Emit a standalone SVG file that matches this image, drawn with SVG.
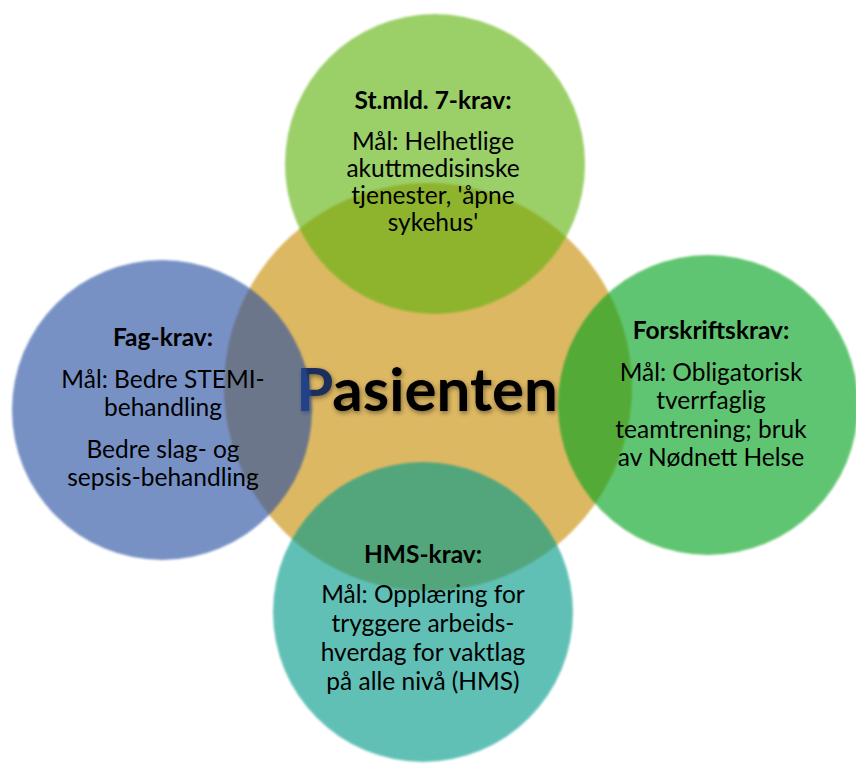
<svg xmlns="http://www.w3.org/2000/svg" width="856" height="764" viewBox="0 0 856 764">
  <style>
    .t { font-family: Lato, "Open Sans", "Liberation Sans", sans-serif; font-size: 24.5px; fill: #000; text-anchor: middle; }
    .h { font-weight: bold; }
    .big { font-family: Lato, "Open Sans", "Liberation Sans", sans-serif; font-size: 60px; font-weight: bold; fill: #000; text-anchor: middle; }
    .sat { opacity: 0.62; filter: url(#soft); }
  </style>
  <defs>
    <filter id="soft" x="-5%" y="-5%" width="110%" height="110%">
      <feGaussianBlur stdDeviation="1.2"/>
    </filter>
    <filter id="shadow" x="-10%" y="-20%" width="120%" height="150%">
      <feGaussianBlur in="SourceAlpha" stdDeviation="2.5"/>
      <feOffset dx="1" dy="2" result="b"/>
      <feComponentTransfer><feFuncA type="linear" slope="0.45"/></feComponentTransfer>
      <feMerge><feMergeNode/><feMergeNode in="SourceGraphic"/></feMerge>
    </filter>
  </defs>

  <g id="center">
    <circle cx="428" cy="387" r="204" fill="#DDB864" filter="url(#soft)"/>
    <text class="big" x="427" y="411" filter="url(#shadow)"><tspan fill="#1F2F5C">P</tspan>asienten</text>
  </g>

  <g id="node-top">
    <circle class="sat" cx="435" cy="164" r="150" fill="#5EB20C"/>
    <text class="t h" x="433" y="109">St.mld. 7-krav:</text>
    <text class="t" x="433" y="150">Mål: Helhetlige</text>
    <text class="t" x="433" y="177">akuttmedisinske</text>
    <text class="t" x="433" y="204">tjenester, 'åpne</text>
    <text class="t" x="433" y="231">sykehus'</text>
  </g>

  <g id="node-left">
    <circle class="sat" cx="162" cy="410" r="150" fill="#264FA3"/>
    <text class="t h" x="163" y="346">Fag-krav:</text>
    <text class="t" x="163" y="388">Mål: Bedre STEMI-</text>
    <text class="t" x="163" y="416">behandling</text>
    <text class="t" x="163" y="458">Bedre slag- og</text>
    <text class="t" x="163" y="486">sepsis-behandling</text>
  </g>

  <g id="node-right">
    <circle class="sat" cx="708" cy="405" r="150" fill="#02A31A"/>
    <text class="t h" x="711" y="339">Forskriftskrav:</text>
    <text class="t" x="711" y="381">Mål: Obligatorisk</text>
    <text class="t" x="711" y="409">tverrfaglig</text>
    <text class="t" x="711" y="438">teamtrening; bruk</text>
    <text class="t" x="711" y="466">av Nødnett Helse</text>
  </g>

  <g id="node-bottom">
    <circle class="sat" cx="423" cy="612" r="150" fill="#069B8A"/>
    <text class="t h" x="423" y="563">HMS-krav:</text>
    <text class="t" x="423" y="603">Mål: Opplæring for</text>
    <text class="t" x="423" y="632">tryggere arbeids-</text>
    <text class="t" x="423" y="661">hverdag for vaktlag</text>
    <text class="t" x="423" y="690">på alle nivå (HMS)</text>
  </g>

  <g id="connectors"></g>
</svg>
